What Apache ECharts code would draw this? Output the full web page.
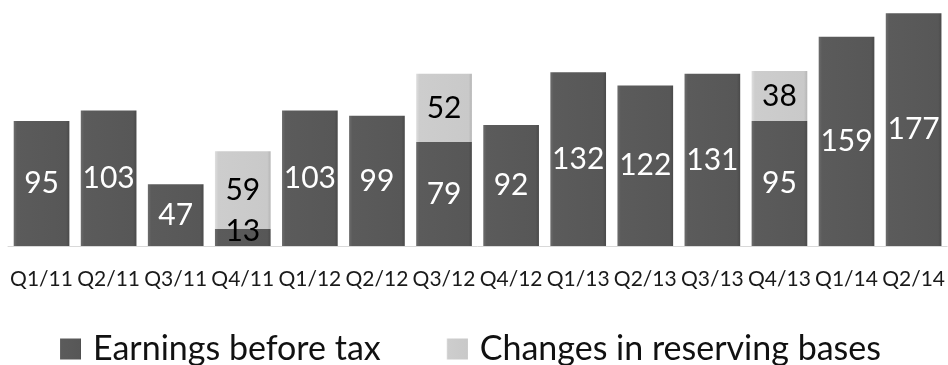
<!DOCTYPE html>
<html>
<head>
<meta charset="utf-8">
<script src="https://cdn.jsdelivr.net/npm/echarts@6/dist/echarts.min.js"></script>
<style>
  html, body { margin: 0; padding: 0; background: #fff; }
  #chart { width: 948px; height: 365px; }
</style>
</head>
<body>
<div id="chart"></div>
<script>
// Quarterly figures
const quarters = ['Q1/11','Q2/11','Q3/11','Q4/11','Q1/12','Q2/12','Q3/12','Q4/12','Q1/13','Q2/13','Q3/13','Q4/13','Q1/14','Q2/14'];
const earningsBeforeTax = [95, 103, 47, 13, 103, 99, 79, 92, 132, 122, 131, 95, 159, 177];
const reservingChanges = [null, null, null, 59, null, null, 52, null, null, null, null, 38, null, null];

const FONT = 'Lato, "Open Sans", sans-serif';

// Bevelled look: lighter left edge, darker right edge
const darkFill = new echarts.graphic.LinearGradient(0, 0, 1, 0, [
  { offset: 0, color: '#6c6c6c' },
  { offset: 0.06, color: '#5b5b5b' },
  { offset: 0.94, color: '#575757' },
  { offset: 1, color: '#4a4a4a' }
]);
const lightFill = new echarts.graphic.LinearGradient(0, 0, 1, 0, [
  { offset: 0, color: '#dedede' },
  { offset: 0.06, color: '#cdcdcd' },
  { offset: 0.94, color: '#c9c9c9' },
  { offset: 1, color: '#b5b5b5' }
]);

const earningsData = earningsBeforeTax.map((v) => {
  // small bars cannot hold white text comfortably
  if (v < 30) {
    return { value: v, label: { color: '#000', offset: [0, -6] } };
  }
  return v;
});

const chart = echarts.init(document.getElementById('chart'));
chart.setOption({
  animation: false,
  grid: { left: 8, right: 0, top: 0, bottom: 119 },
  xAxis: {
    type: 'category',
    data: quarters,
    axisTick: { show: false },
    axisLine: { lineStyle: { color: '#d9d9d9', width: 1 } },
    axisLabel: { color: '#1a1a1a', fontFamily: FONT, fontSize: 21, margin: 23, interval: 0 }
  },
  yAxis: { type: 'value', min: 0, max: 187, show: false, splitLine: { show: false } },
  legend: {
    top: 327,
    left: 55,
    icon: 'rect',
    itemWidth: 21,
    itemHeight: 21,
    itemGap: 66,
    textStyle: { fontFamily: FONT, fontSize: 34, color: '#111', padding: [0, 0, 0, 7] },
    data: ['Earnings before tax', 'Changes in reserving bases']
  },
  series: [
    {
      name: 'Earnings before tax',
      type: 'bar',
      stack: 'total',
      barCategoryGap: '17%',
      data: earningsData,
      itemStyle: { color: darkFill },
      label: { show: true, position: 'inside', color: '#fff', fontFamily: FONT, fontSize: 30 }
    },
    {
      name: 'Changes in reserving bases',
      type: 'bar',
      stack: 'total',
      data: reservingChanges,
      itemStyle: { color: lightFill },
      label: { show: true, position: 'inside', color: '#000', fontFamily: FONT, fontSize: 30 }
    }
  ]
});
</script>
</body>
</html>
